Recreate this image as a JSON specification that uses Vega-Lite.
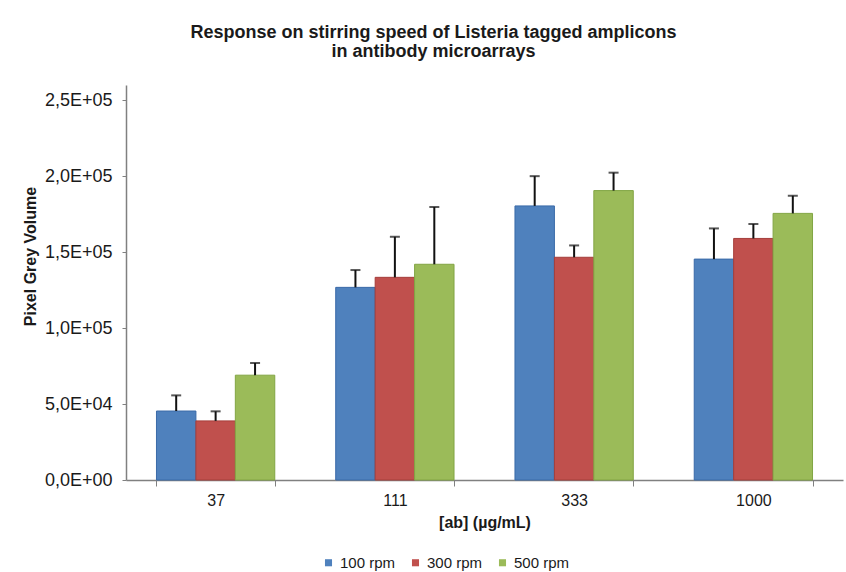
{
  "$schema": "https://vega.github.io/schema/vega-lite/v6.json",
  "width": 717,
  "height": 395,
  "autosize": {"type": "none"},
  "padding": {"left": 126, "top": 85, "right": 3, "bottom": 92},
  "background": "white",
  "config": {"view": {"stroke": null}, "font": "Liberation Sans"},
  "title": {
    "text": ["Response on stirring speed of Listeria tagged amplicons", "in antibody microarrays"],
    "fontSize": 18,
    "font": "Liberation Sans",
    "fontWeight": "bold",
    "anchor": "middle",
    "dx": -51,
    "offset": 24,
    "lineHeight": 19,
    "color": "#1a1a1a"
  },
  "data": {
    "values": [
      {"conc": "37", "speed": "100 rpm", "value": 45400, "err": 55700},
      {"conc": "37", "speed": "300 rpm", "value": 38900, "err": 45200},
      {"conc": "37", "speed": "500 rpm", "value": 69000, "err": 77000},
      {"conc": "111", "speed": "100 rpm", "value": 126800, "err": 138200},
      {"conc": "111", "speed": "300 rpm", "value": 133400, "err": 160100},
      {"conc": "111", "speed": "500 rpm", "value": 142000, "err": 179700},
      {"conc": "333", "speed": "100 rpm", "value": 180400, "err": 200000},
      {"conc": "333", "speed": "300 rpm", "value": 146600, "err": 154400},
      {"conc": "333", "speed": "500 rpm", "value": 190500, "err": 202300},
      {"conc": "1000", "speed": "100 rpm", "value": 145400, "err": 165600},
      {"conc": "1000", "speed": "300 rpm", "value": 159000, "err": 168500},
      {"conc": "1000", "speed": "500 rpm", "value": 175500, "err": 187100}
    ]
  },
  "encoding": {
    "x": {
      "field": "conc",
      "type": "nominal",
      "sort": ["37", "111", "333", "1000"],
      "scale": {"paddingInner": 0.34, "paddingOuter": 0.17},
      "axis": {
        "title": "[ab] (µg/mL)",
        "titleFontSize": 16,
        "titleFontWeight": "bold",
        "titleColor": "#1a1a1a",
        "titlePadding": 6,
        "labelAngle": 0,
        "labelFontSize": 16,
        "labelColor": "#1a1a1a",
        "labelPadding": 6,
        "tickBand": "extent",
        "tickSize": 6,
        "tickColor": "#808080",
        "domainColor": "#808080",
        "domainWidth": 1.5,
        "grid": false
      }
    },
    "xOffset": {"field": "speed", "type": "nominal", "sort": ["100 rpm", "300 rpm", "500 rpm"]}
  },
  "layer": [
    {
      "mark": {"type": "bar", "strokeWidth": 1},
      "encoding": {
        "y": {
          "field": "value",
          "type": "quantitative",
          "scale": {"domain": [0, 250000]},
          "axis": {
            "title": "Pixel Grey Volume",
            "titleFontSize": 16,
            "titleFontWeight": "bold",
            "titleColor": "#1a1a1a",
            "titleX": -88,
            "titleY": 171,
            "values": [0, 50000, 100000, 150000, 200000, 250000],
            "labelExpr": "replace(replace(format(datum.value, '.1e'), '.', ','), 'e+', 'E+0')",
            "labelFontSize": 18,
            "labelColor": "#1a1a1a",
            "labelPadding": 10,
            "tickSize": 4,
            "tickColor": "#808080",
            "domainColor": "#808080",
            "domainWidth": 1.5,
            "grid": false
          }
        },
        "fill": {
          "field": "speed",
          "type": "nominal",
          "sort": ["100 rpm", "300 rpm", "500 rpm"],
          "scale": {"range": ["#4F81BD", "#C0504D", "#9BBB59"]},
          "legend": {
            "title": null,
            "orient": "none",
            "direction": "horizontal",
            "legendX": 195,
            "legendY": 470,
            "symbolType": "square",
            "symbolSize": 50,
            "symbolStrokeWidth": 0,
            "labelFontSize": 15,
            "labelColor": "#1a1a1a",
            "columnPadding": 12
          }
        },
        "stroke": {
          "field": "speed",
          "type": "nominal",
          "sort": ["100 rpm", "300 rpm", "500 rpm"],
          "scale": {"range": ["#3A6AA8", "#A53E3B", "#82A544"]},
          "legend": null
        }
      }
    },
    {
      "mark": {"type": "rule", "color": "#111111", "strokeWidth": 2},
      "encoding": {
        "y": {"field": "value", "type": "quantitative"},
        "y2": {"field": "err"}
      }
    },
    {
      "mark": {"type": "tick", "color": "#111111", "thickness": 2, "size": 10},
      "encoding": {
        "y": {"field": "err", "type": "quantitative"}
      }
    }
  ]
}
